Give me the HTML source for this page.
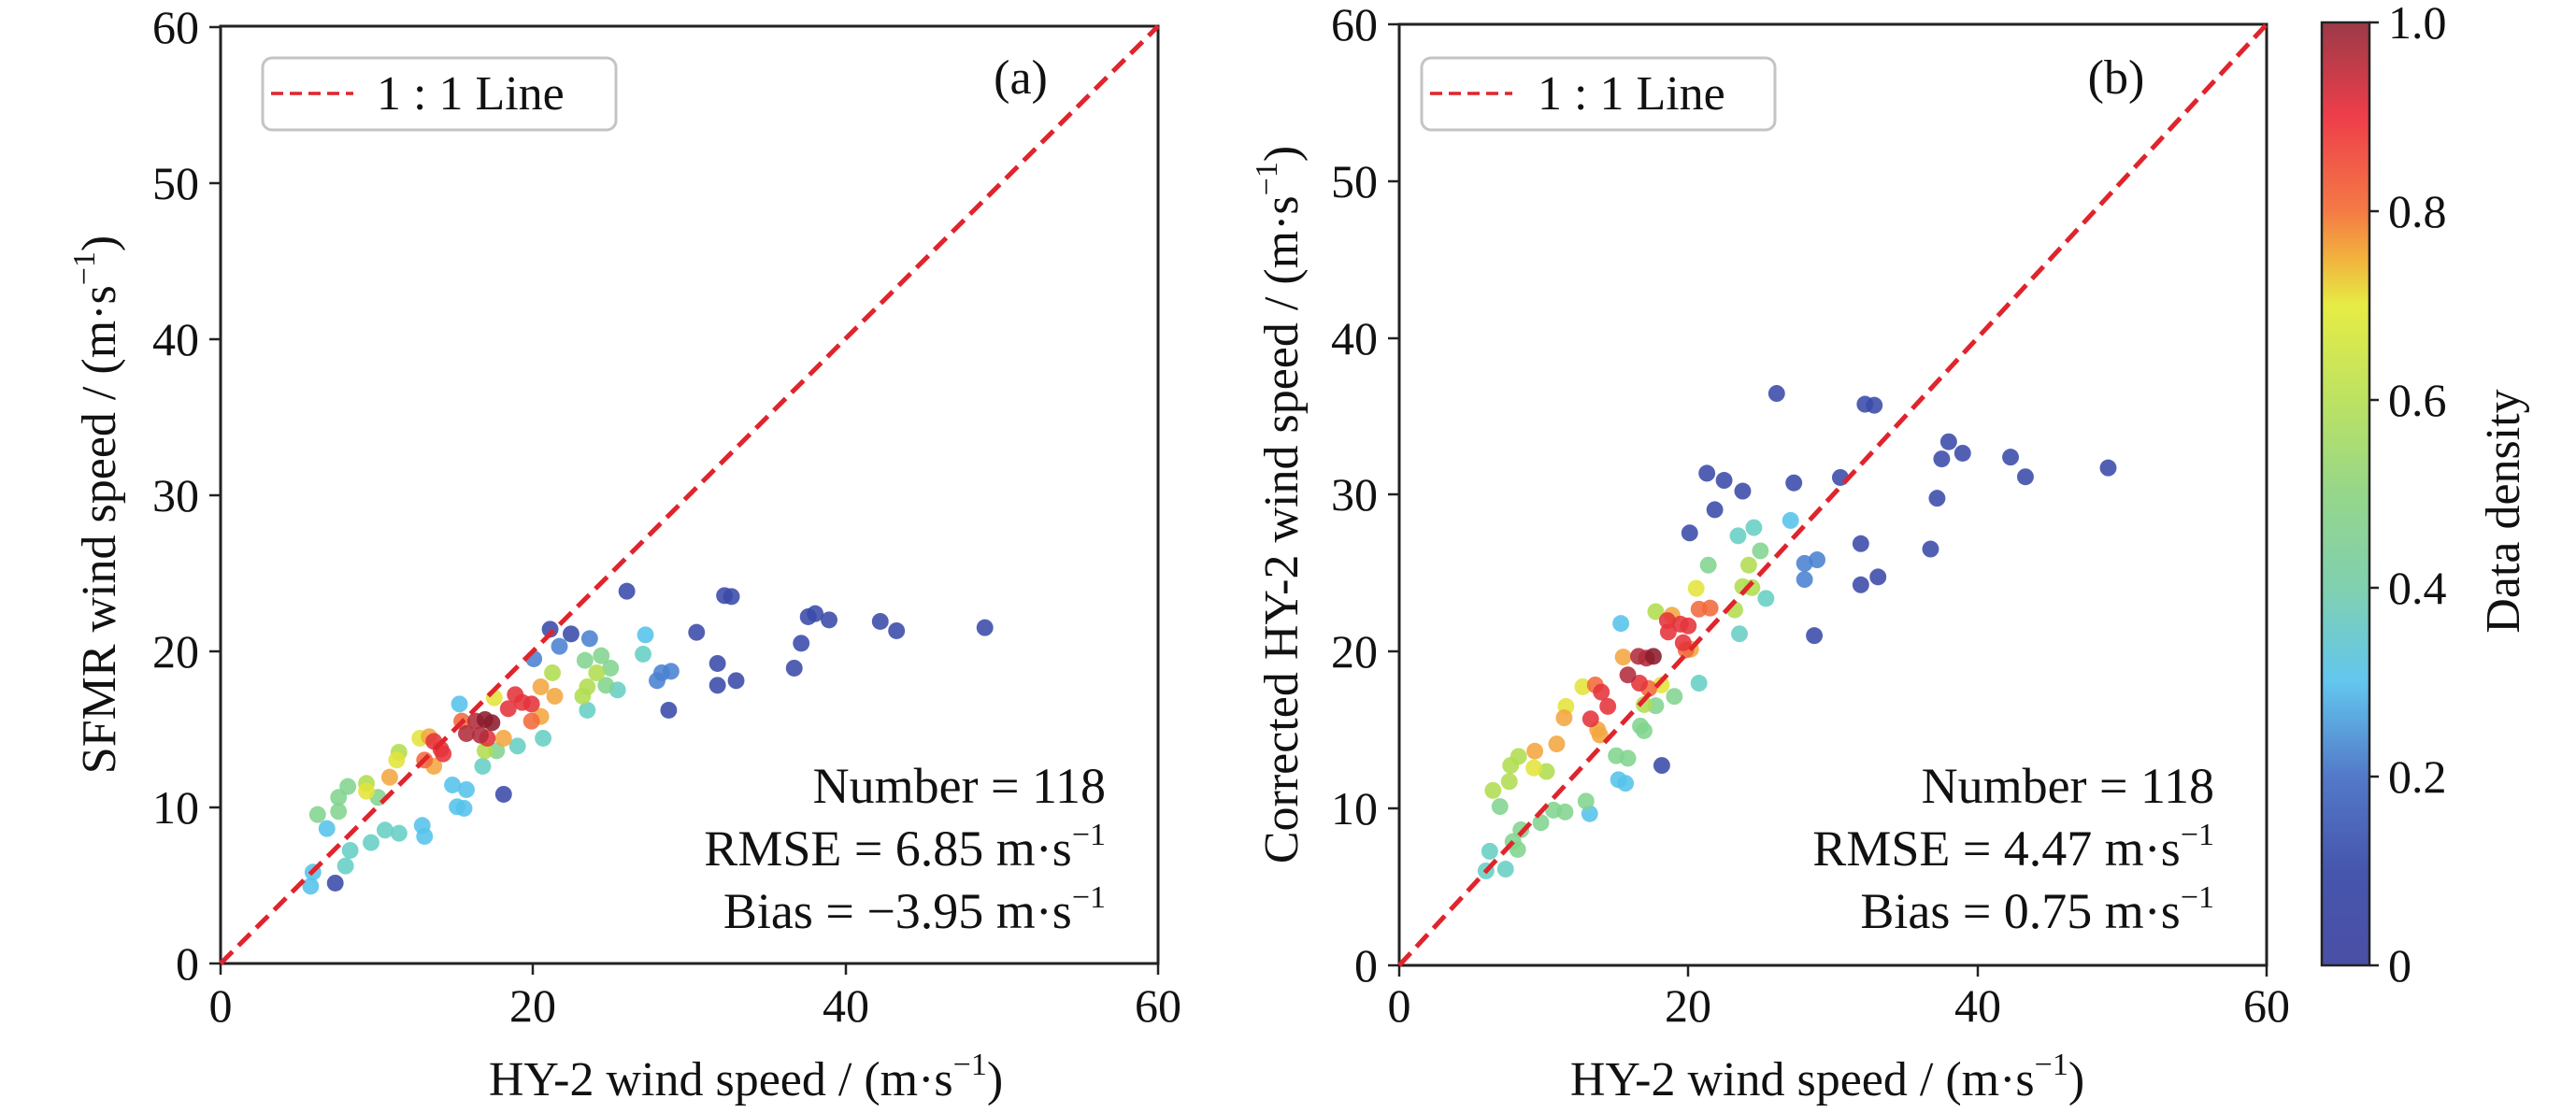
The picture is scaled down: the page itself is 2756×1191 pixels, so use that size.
<!DOCTYPE html>
<html><head><meta charset="utf-8"><style>
html,body{margin:0;padding:0;background:#fff}
svg{display:block}
svg text{font-family:"Liberation Serif","DejaVu Serif",serif;fill:#111}
</style></head><body>
<svg width="2756" height="1191" viewBox="0 0 2756 1191" xmlns="http://www.w3.org/2000/svg" font-family="Liberation Serif, DejaVu Serif, serif">
<defs>
<linearGradient id="cb" x1="0" y1="1" x2="0" y2="0">
<stop offset="0" stop-color="#4a4fa5"/><stop offset="0.1" stop-color="#4656ad"/>
<stop offset="0.2" stop-color="#5379c8"/><stop offset="0.3" stop-color="#62c6ee"/>
<stop offset="0.4" stop-color="#80d0b0"/><stop offset="0.5" stop-color="#95d68a"/>
<stop offset="0.6" stop-color="#bde262"/><stop offset="0.7" stop-color="#e6ec44"/>
<stop offset="0.75" stop-color="#f2b23e"/><stop offset="0.8" stop-color="#f47a45"/>
<stop offset="0.9" stop-color="#ee3e4a"/><stop offset="1" stop-color="#9c3a48"/>
</linearGradient>
<style>
.db{fill:#3a4aaa}.b{fill:#4a82d2}.lb{fill:#55c3ea}.c{fill:#66cfc4}.g{fill:#82d48e}.lg{fill:#b0dd50}.y{fill:#e2e43a}.o{fill:#f2a640}.or{fill:#f26a3c}.r{fill:#e5333b}.dr{fill:#b02c3c}.mr{fill:#8a1c2c}
ellipse{opacity:0.88}
.pa ellipse{rx:18px;ry:27px}
.pb ellipse{rx:18px;ry:23.5px}
</style>
</defs>

<!-- ===== Panel (a) ===== -->
<rect x="236" y="28" width="1003" height="1003" stroke="#222" stroke-width="3" fill="none"/>
<g stroke="#222" stroke-width="2.5">
<line x1="224" y1="1031" x2="236" y2="1031"/><line x1="224" y1="864" x2="236" y2="864"/>
<line x1="224" y1="697" x2="236" y2="697"/><line x1="224" y1="530" x2="236" y2="530"/>
<line x1="224" y1="363" x2="236" y2="363"/><line x1="224" y1="196" x2="236" y2="196"/>
<line x1="224" y1="29" x2="236" y2="29"/>
<line x1="236" y1="1031" x2="236" y2="1043"/><line x1="570" y1="1031" x2="570" y2="1043"/>
<line x1="905" y1="1031" x2="905" y2="1043"/><line x1="1239" y1="1031" x2="1239" y2="1043"/>
</g>
<g font-size="50" text-anchor="end">
<text x="213" y="1048">0</text><text x="213" y="881">10</text><text x="213" y="714">20</text>
<text x="213" y="547">30</text><text x="213" y="380">40</text><text x="213" y="213">50</text><text x="213" y="46">60</text>
</g>
<g font-size="50" text-anchor="middle">
<text x="236" y="1093">0</text><text x="570" y="1093">20</text><text x="905" y="1093">40</text><text x="1239" y="1093">60</text>
</g>
<text x="798" y="1172" font-size="52" text-anchor="middle">HY-2 wind speed / (m·s<tspan font-size="34" dy="-22">−1</tspan><tspan dy="22">)</tspan></text>
<text transform="translate(123,540) rotate(-90)" font-size="52" text-anchor="middle">SFMR wind speed / (m·s<tspan font-size="34" dy="-22">−1</tspan><tspan dy="22">)</tspan></text>

<g class="pa" transform="translate(300,620) scale(0.4975,0.3333)">
<ellipse class="db" cx="745" cy="38" rx="18" ry="27"/><ellipse class="db" cx="955" cy="52" rx="18" ry="27"/><ellipse class="db" cx="970" cy="55" rx="18" ry="27"/><ellipse class="db" cx="580" cy="160" rx="18" ry="27"/><ellipse class="db" cx="625" cy="175" rx="18" ry="27"/><ellipse class="db" cx="895" cy="170" rx="18" ry="27"/><ellipse class="db" cx="1135" cy="120" rx="18" ry="27"/><ellipse class="db" cx="1150" cy="110" rx="18" ry="27"/><ellipse class="db" cx="1180" cy="130" rx="18" ry="27"/><ellipse class="db" cx="1290" cy="135" rx="18" ry="27"/><ellipse class="db" cx="1325" cy="165" rx="18" ry="27"/><ellipse class="db" cx="1515" cy="155" rx="18" ry="27"/><ellipse class="db" cx="1120" cy="205" rx="18" ry="27"/><ellipse class="db" cx="940" cy="270" rx="18" ry="27"/><ellipse class="db" cx="1105" cy="285" rx="18" ry="27"/><ellipse class="db" cx="940" cy="340" rx="18" ry="27"/><ellipse class="db" cx="980" cy="325" rx="18" ry="27"/><ellipse class="db" cx="835" cy="420" rx="18" ry="27"/><ellipse class="db" cx="480" cy="690" rx="18" ry="27"/><ellipse class="db" cx="118" cy="975" rx="18" ry="27"/>
<ellipse class="b" cx="665" cy="190" rx="18" ry="27"/><ellipse class="b" cx="600" cy="215" rx="18" ry="27"/><ellipse class="b" cx="545" cy="255" rx="18" ry="27"/><ellipse class="b" cx="820" cy="300" rx="18" ry="27"/><ellipse class="b" cx="840" cy="295" rx="18" ry="27"/><ellipse class="b" cx="810" cy="325" rx="18" ry="27"/>
<ellipse class="lb" cx="785" cy="178" rx="18" ry="27"/><ellipse class="lb" cx="385" cy="400" rx="18" ry="27"/><ellipse class="lb" cx="370" cy="660" rx="18" ry="27"/><ellipse class="lb" cx="400" cy="675" rx="18" ry="27"/><ellipse class="lb" cx="380" cy="730" rx="18" ry="27"/><ellipse class="lb" cx="395" cy="735" rx="18" ry="27"/><ellipse class="lb" cx="100" cy="800" rx="18" ry="27"/><ellipse class="lb" cx="305" cy="790" rx="18" ry="27"/><ellipse class="lb" cx="310" cy="825" rx="18" ry="27"/><ellipse class="lb" cx="70" cy="940" rx="18" ry="27"/><ellipse class="lb" cx="65" cy="985" rx="18" ry="27"/>
<ellipse class="c" cx="780" cy="240" rx="18" ry="27"/><ellipse class="c" cx="725" cy="355" rx="18" ry="27"/><ellipse class="c" cx="660" cy="420" rx="18" ry="27"/><ellipse class="c" cx="565" cy="510" rx="18" ry="27"/><ellipse class="c" cx="435" cy="600" rx="18" ry="27"/><ellipse class="c" cx="510" cy="535" rx="18" ry="27"/><ellipse class="c" cx="225" cy="805" rx="18" ry="27"/><ellipse class="c" cx="255" cy="815" rx="18" ry="27"/><ellipse class="c" cx="195" cy="845" rx="18" ry="27"/><ellipse class="c" cx="150" cy="870" rx="18" ry="27"/><ellipse class="c" cx="140" cy="920" rx="18" ry="27"/>
<ellipse class="g" cx="655" cy="260" rx="18" ry="27"/><ellipse class="g" cx="690" cy="245" rx="18" ry="27"/><ellipse class="g" cx="710" cy="285" rx="18" ry="27"/><ellipse class="g" cx="700" cy="340" rx="18" ry="27"/><ellipse class="g" cx="465" cy="550" rx="18" ry="27"/><ellipse class="g" cx="80" cy="755" rx="18" ry="27"/><ellipse class="g" cx="125" cy="745" rx="18" ry="27"/><ellipse class="g" cx="145" cy="665" rx="18" ry="27"/><ellipse class="g" cx="125" cy="700" rx="18" ry="27"/><ellipse class="g" cx="210" cy="700" rx="18" ry="27"/>
<ellipse class="lg" cx="680" cy="300" rx="18" ry="27"/><ellipse class="lg" cx="660" cy="345" rx="18" ry="27"/><ellipse class="lg" cx="650" cy="375" rx="18" ry="27"/><ellipse class="lg" cx="585" cy="300" rx="18" ry="27"/><ellipse class="lg" cx="440" cy="550" rx="18" ry="27"/><ellipse class="lg" cx="185" cy="655" rx="18" ry="27"/><ellipse class="lg" cx="255" cy="555" rx="18" ry="27"/>
<ellipse class="y" cx="460" cy="380" rx="18" ry="27"/><ellipse class="y" cx="300" cy="510" rx="18" ry="27"/><ellipse class="y" cx="250" cy="580" rx="18" ry="27"/><ellipse class="y" cx="185" cy="680" rx="18" ry="27"/>
<ellipse class="o" cx="560" cy="345" rx="18" ry="27"/><ellipse class="o" cx="590" cy="375" rx="18" ry="27"/><ellipse class="o" cx="560" cy="440" rx="18" ry="27"/><ellipse class="o" cx="480" cy="510" rx="18" ry="27"/><ellipse class="o" cx="235" cy="635" rx="18" ry="27"/><ellipse class="o" cx="330" cy="600" rx="18" ry="27"/><ellipse class="o" cx="320" cy="505" rx="18" ry="27"/>
<ellipse class="or" cx="390" cy="455" rx="18" ry="27"/><ellipse class="or" cx="540" cy="455" rx="18" ry="27"/><ellipse class="or" cx="310" cy="580" rx="18" ry="27"/>
<ellipse class="r" cx="505" cy="370" rx="18" ry="27"/><ellipse class="r" cx="520" cy="395" rx="18" ry="27"/><ellipse class="r" cx="490" cy="415" rx="18" ry="27"/><ellipse class="r" cx="540" cy="400" rx="18" ry="27"/><ellipse class="r" cx="345" cy="545" rx="18" ry="27"/><ellipse class="r" cx="330" cy="520" rx="18" ry="27"/><ellipse class="r" cx="445" cy="510" rx="18" ry="27"/><ellipse class="r" cx="350" cy="560" rx="18" ry="27"/>
<ellipse class="dr" cx="420" cy="455" rx="18" ry="27"/><ellipse class="dr" cx="400" cy="495" rx="18" ry="27"/><ellipse class="dr" cx="430" cy="500" rx="18" ry="27"/>
<ellipse class="mr" cx="455" cy="460" rx="18" ry="27"/><ellipse class="mr" cx="440" cy="450" rx="18" ry="27"/>
</g>
<line x1="236" y1="1031" x2="1239" y2="28" stroke="#e0242c" stroke-width="5" stroke-dasharray="18,9"/>

<rect x="281" y="62" width="378" height="77" rx="10" fill="#fff" stroke="#c4c4c4" stroke-width="3"/>
<line x1="290" y1="100" x2="378" y2="100" stroke="#e0242c" stroke-width="3.5" stroke-dasharray="13,7"/>
<text x="403" y="117" font-size="52">1 : 1 Line</text>
<text x="1092" y="100" font-size="52" text-anchor="middle">(a)</text>

<g font-size="54" text-anchor="end">
<text x="1183" y="859">Number = 118</text>
<text x="1183" y="926">RMSE = 6.85 m·s<tspan font-size="34" dy="-22">−1</tspan></text>
<text x="1183" y="993">Bias = −3.95 m·s<tspan font-size="34" dy="-22">−1</tspan></text>
</g>

<!-- ===== Panel (b) ===== -->
<rect x="1497" y="26" width="928" height="1007" stroke="#222" stroke-width="3" fill="none"/>
<g stroke="#222" stroke-width="2.5">
<line x1="1485" y1="1033" x2="1497" y2="1033"/><line x1="1485" y1="865" x2="1497" y2="865"/>
<line x1="1485" y1="697" x2="1497" y2="697"/><line x1="1485" y1="529" x2="1497" y2="529"/>
<line x1="1485" y1="362" x2="1497" y2="362"/><line x1="1485" y1="194" x2="1497" y2="194"/>
<line x1="1485" y1="26" x2="1497" y2="26"/>
<line x1="1497" y1="1033" x2="1497" y2="1045"/><line x1="1806" y1="1033" x2="1806" y2="1045"/>
<line x1="2116" y1="1033" x2="2116" y2="1045"/><line x1="2425" y1="1033" x2="2425" y2="1045"/>
</g>
<g font-size="50" text-anchor="end">
<text x="1474" y="1050">0</text><text x="1474" y="882">10</text><text x="1474" y="714">20</text>
<text x="1474" y="546">30</text><text x="1474" y="379">40</text><text x="1474" y="211">50</text><text x="1474" y="43">60</text>
</g>
<g font-size="50" text-anchor="middle">
<text x="1497" y="1093">0</text><text x="1806" y="1093">20</text><text x="2116" y="1093">40</text><text x="2425" y="1093">60</text>
</g>
<text x="1955" y="1172" font-size="52" text-anchor="middle">HY-2 wind speed / (m·s<tspan font-size="34" dy="-22">−1</tspan><tspan dy="22">)</tspan></text>
<text transform="translate(1388,540) rotate(-90)" font-size="52" text-anchor="middle">Corrected HY-2 wind speed / (m·s<tspan font-size="34" dy="-22">−1</tspan><tspan dy="22">)</tspan></text>

<g class="pb" transform="translate(1560,400) scale(0.4975,0.3827)">
<ellipse class="db" cx="685" cy="55" rx="18" ry="23.5"/><ellipse class="db" cx="875" cy="85" rx="18" ry="23.5"/><ellipse class="db" cx="895" cy="88" rx="18" ry="23.5"/><ellipse class="db" cx="1055" cy="190" rx="18" ry="23.5"/><ellipse class="db" cx="1085" cy="222" rx="18" ry="23.5"/><ellipse class="db" cx="1040" cy="238" rx="18" ry="23.5"/><ellipse class="db" cx="1188" cy="233" rx="18" ry="23.5"/><ellipse class="db" cx="1220" cy="288" rx="18" ry="23.5"/><ellipse class="db" cx="1398" cy="263" rx="18" ry="23.5"/><ellipse class="db" cx="535" cy="278" rx="18" ry="23.5"/><ellipse class="db" cx="572" cy="298" rx="18" ry="23.5"/><ellipse class="db" cx="612" cy="328" rx="18" ry="23.5"/><ellipse class="db" cx="722" cy="305" rx="18" ry="23.5"/><ellipse class="db" cx="822" cy="290" rx="18" ry="23.5"/><ellipse class="db" cx="1030" cy="348" rx="18" ry="23.5"/><ellipse class="db" cx="552" cy="380" rx="18" ry="23.5"/><ellipse class="db" cx="498" cy="445" rx="18" ry="23.5"/><ellipse class="db" cx="866" cy="475" rx="18" ry="23.5"/><ellipse class="db" cx="1016" cy="490" rx="18" ry="23.5"/><ellipse class="db" cx="866" cy="590" rx="18" ry="23.5"/><ellipse class="db" cx="903" cy="568" rx="18" ry="23.5"/><ellipse class="db" cx="766" cy="732" rx="18" ry="23.5"/><ellipse class="db" cx="438" cy="1095" rx="18" ry="23.5"/>
<ellipse class="b" cx="745" cy="530" rx="18" ry="23.5"/><ellipse class="b" cx="772" cy="520" rx="18" ry="23.5"/><ellipse class="b" cx="745" cy="575" rx="18" ry="23.5"/>
<ellipse class="lb" cx="715" cy="410" rx="18" ry="23.5"/><ellipse class="lb" cx="350" cy="698" rx="18" ry="23.5"/><ellipse class="lb" cx="345" cy="1135" rx="18" ry="23.5"/><ellipse class="lb" cx="360" cy="1145" rx="18" ry="23.5"/><ellipse class="lb" cx="283" cy="1230" rx="18" ry="23.5"/>
<ellipse class="c" cx="602" cy="453" rx="18" ry="23.5"/><ellipse class="c" cx="636" cy="430" rx="18" ry="23.5"/><ellipse class="c" cx="662" cy="628" rx="18" ry="23.5"/><ellipse class="c" cx="605" cy="727" rx="18" ry="23.5"/><ellipse class="c" cx="518" cy="865" rx="18" ry="23.5"/><ellipse class="c" cx="102" cy="1385" rx="18" ry="23.5"/><ellipse class="c" cx="60" cy="1390" rx="18" ry="23.5"/><ellipse class="c" cx="68" cy="1335" rx="18" ry="23.5"/>
<ellipse class="g" cx="650" cy="495" rx="18" ry="23.5"/><ellipse class="g" cx="538" cy="535" rx="18" ry="23.5"/><ellipse class="g" cx="465" cy="902" rx="18" ry="23.5"/><ellipse class="g" cx="425" cy="928" rx="18" ry="23.5"/><ellipse class="g" cx="392" cy="985" rx="18" ry="23.5"/><ellipse class="g" cx="400" cy="998" rx="18" ry="23.5"/><ellipse class="g" cx="340" cy="1068" rx="18" ry="23.5"/><ellipse class="g" cx="365" cy="1075" rx="18" ry="23.5"/><ellipse class="g" cx="275" cy="1195" rx="18" ry="23.5"/><ellipse class="g" cx="230" cy="1225" rx="18" ry="23.5"/><ellipse class="g" cx="205" cy="1220" rx="18" ry="23.5"/><ellipse class="g" cx="178" cy="1255" rx="18" ry="23.5"/><ellipse class="g" cx="90" cy="1210" rx="18" ry="23.5"/><ellipse class="g" cx="135" cy="1275" rx="18" ry="23.5"/><ellipse class="g" cx="128" cy="1330" rx="18" ry="23.5"/><ellipse class="g" cx="118" cy="1308" rx="18" ry="23.5"/>
<ellipse class="lg" cx="625" cy="535" rx="18" ry="23.5"/><ellipse class="lg" cx="612" cy="595" rx="18" ry="23.5"/><ellipse class="lg" cx="632" cy="598" rx="18" ry="23.5"/><ellipse class="lg" cx="595" cy="660" rx="18" ry="23.5"/><ellipse class="lg" cx="425" cy="665" rx="18" ry="23.5"/><ellipse class="lg" cx="400" cy="925" rx="18" ry="23.5"/><ellipse class="lg" cx="113" cy="1095" rx="18" ry="23.5"/><ellipse class="lg" cx="130" cy="1070" rx="18" ry="23.5"/><ellipse class="lg" cx="110" cy="1140" rx="18" ry="23.5"/><ellipse class="lg" cx="75" cy="1165" rx="18" ry="23.5"/><ellipse class="lg" cx="190" cy="1112" rx="18" ry="23.5"/>
<ellipse class="y" cx="512" cy="600" rx="18" ry="23.5"/><ellipse class="y" cx="268" cy="875" rx="18" ry="23.5"/><ellipse class="y" cx="232" cy="930" rx="18" ry="23.5"/><ellipse class="y" cx="437" cy="870" rx="18" ry="23.5"/><ellipse class="y" cx="163" cy="1102" rx="18" ry="23.5"/>
<ellipse class="o" cx="228" cy="962" rx="18" ry="23.5"/><ellipse class="o" cx="300" cy="995" rx="18" ry="23.5"/><ellipse class="o" cx="305" cy="1010" rx="18" ry="23.5"/><ellipse class="o" cx="165" cy="1055" rx="18" ry="23.5"/><ellipse class="o" cx="500" cy="770" rx="18" ry="23.5"/><ellipse class="o" cx="355" cy="792" rx="18" ry="23.5"/><ellipse class="o" cx="212" cy="1035" rx="18" ry="23.5"/><ellipse class="o" cx="460" cy="675" rx="18" ry="23.5"/>
<ellipse class="or" cx="518" cy="658" rx="18" ry="23.5"/><ellipse class="or" cx="542" cy="655" rx="18" ry="23.5"/><ellipse class="or" cx="295" cy="870" rx="18" ry="23.5"/><ellipse class="or" cx="410" cy="880" rx="18" ry="23.5"/><ellipse class="or" cx="490" cy="772" rx="18" ry="23.5"/>
<ellipse class="r" cx="450" cy="690" rx="18" ry="23.5"/><ellipse class="r" cx="478" cy="700" rx="18" ry="23.5"/><ellipse class="r" cx="495" cy="705" rx="18" ry="23.5"/><ellipse class="r" cx="452" cy="722" rx="18" ry="23.5"/><ellipse class="r" cx="484" cy="752" rx="18" ry="23.5"/><ellipse class="r" cx="308" cy="890" rx="18" ry="23.5"/><ellipse class="r" cx="322" cy="930" rx="18" ry="23.5"/><ellipse class="r" cx="285" cy="965" rx="18" ry="23.5"/><ellipse class="r" cx="390" cy="865" rx="18" ry="23.5"/>
<ellipse class="dr" cx="388" cy="790" rx="18" ry="23.5"/><ellipse class="dr" cx="405" cy="795" rx="18" ry="23.5"/><ellipse class="dr" cx="365" cy="842" rx="18" ry="23.5"/>
<ellipse class="mr" cx="420" cy="790" rx="18" ry="23.5"/>
</g>
<line x1="1497" y1="1033" x2="2425" y2="26" stroke="#e0242c" stroke-width="5" stroke-dasharray="18,9"/>

<rect x="1521" y="62" width="378" height="77" rx="10" fill="#fff" stroke="#c4c4c4" stroke-width="3"/>
<line x1="1530" y1="100" x2="1618" y2="100" stroke="#e0242c" stroke-width="3.5" stroke-dasharray="13,7"/>
<text x="1645" y="117" font-size="52">1 : 1 Line</text>
<text x="2264" y="100" font-size="52" text-anchor="middle">(b)</text>

<g font-size="54" text-anchor="end">
<text x="2369" y="859">Number = 118</text>
<text x="2369" y="926">RMSE = 4.47 m·s<tspan font-size="34" dy="-22">−1</tspan></text>
<text x="2369" y="993">Bias = 0.75 m·s<tspan font-size="34" dy="-22">−1</tspan></text>
</g>

<!-- ===== Colorbar ===== -->
<rect x="2484" y="24" width="51" height="1009" fill="url(#cb)" stroke="#222" stroke-width="2.5"/>
<g stroke="#222" stroke-width="2.5">
<line x1="2535" y1="1033" x2="2545" y2="1033"/><line x1="2535" y1="831" x2="2545" y2="831"/>
<line x1="2535" y1="629" x2="2545" y2="629"/><line x1="2535" y1="428" x2="2545" y2="428"/>
<line x1="2535" y1="226" x2="2545" y2="226"/><line x1="2535" y1="24" x2="2545" y2="24"/>
</g>
<g font-size="50">
<text x="2555" y="1050">0</text><text x="2555" y="848">0.2</text><text x="2555" y="646">0.4</text>
<text x="2555" y="445">0.6</text><text x="2555" y="243">0.8</text><text x="2555" y="41">1.0</text>
</g>
<text transform="translate(2695,547) rotate(-90)" font-size="52" text-anchor="middle">Data density</text>
</svg>
</body></html>
